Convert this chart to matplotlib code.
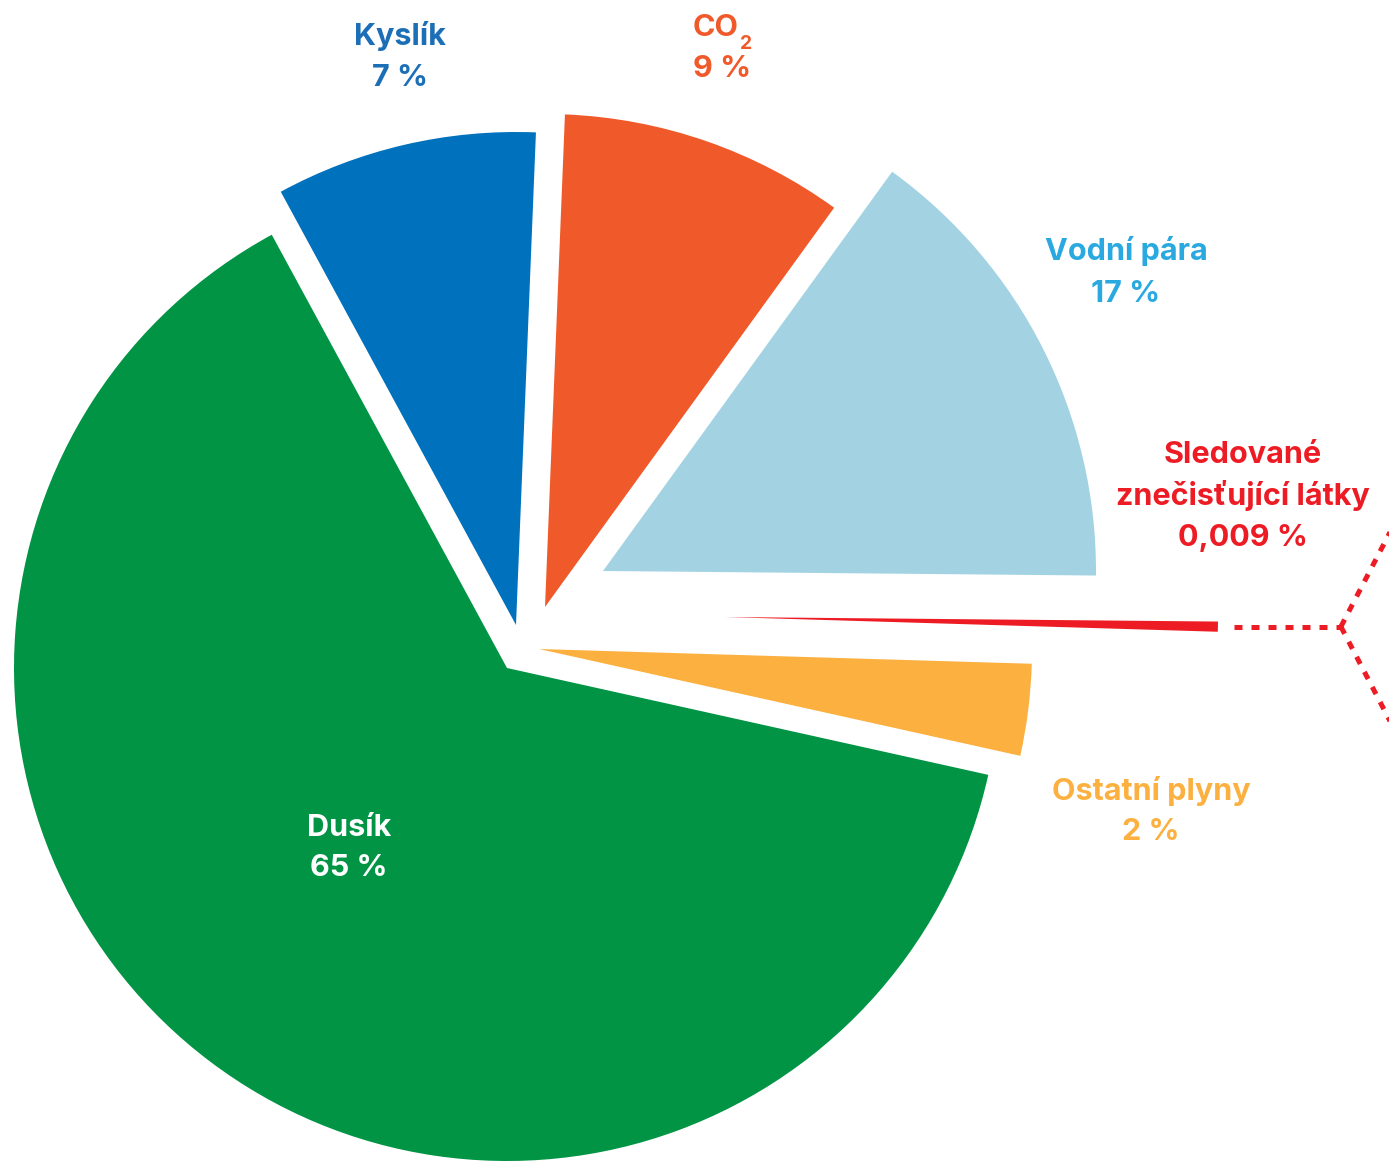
import numpy as np
import matplotlib
matplotlib.use("Agg")
import matplotlib.pyplot as plt

# ---- data ----
categories = ["Dusík", "Ostatní plyny", "Sledované\nznečisťující látky", "Vodní pára", "CO", "Kyslík"]
pct_labels = ["65 %", "2 %", "0,009 %", "17 %", "9 %", "7 %"]
# share of the circle each slice occupies in the drawing (percent)
drawn_share = [63.6, 3.0, 0.33, 15.17, 9.33, 8.56]

slice_colors = ["#009444", "#FBB040", "#ED1C24", "#A3D3E3", "#F05A2B", "#0071BC"]
text_colors = ["#FFFFFF", "#FBB040", "#ED1C24", "#29A9E0", "#F05A2B", "#1C6FB7"]

# ---- layout (pixels) ----
W, H = 1389, 1162
fig = plt.figure(figsize=(W / 100, H / 100), dpi=100)
ax = fig.add_axes([0, 0, 1, 1])

center = (507, -668)
radius = 493
wedges, _ = ax.pie(drawn_share, colors=slice_colors, startangle=118.5,
                   counterclock=True, radius=radius, center=center,
                   wedgeprops=dict(linewidth=0))

# explode offsets of each slice (dx, dy in pixels)
explode_xy = [(0, 0), (32, 19), (218, 51), (96, 97), (38, 61), (9, 43)]
for w, (dx, dy) in zip(wedges, explode_xy):
    x0, y0 = w.center
    w.set_center((x0 + dx, y0 + dy))

ax.set_xlim(0, W)
ax.set_ylim(-H, 0)
ax.set_aspect("equal")
ax.axis("off")

# dotted extension of the tiny red slice
red = wedges[2]
tm = np.deg2rad((red.theta1 + red.theta2) / 2)
tx = red.center[0] + radius * np.cos(tm)
ty = red.center[1] + radius * np.sin(tm)
lkw = dict(color="#ED1C24", lw=3.6, dashes=(1.6, 1.8), dash_capstyle="butt")
ax.plot([tx + 16, tx + 123], [ty, ty], **lkw)
bx = tx + 123
ax.plot([bx, bx + 52], [ty, ty + 100], **lkw)
ax.plot([bx, bx + 52], [ty, ty - 100], **lkw)

# ---- labels ----
fam = ["Inter", "DejaVu Sans"]
font = dict(family=fam, fontweight="bold", fontsize=22)
label_pos = [  # (x, baseline of name, baseline of value)
    (349, 836, 876),
    (1151, 800, 840),
    (1243, 463, 546),
    (1126, 260, 302),
    (716, 36, 77),
    (400, 45, 86),
]
for i, (x, yb1, yb2) in enumerate(label_pos):
    name = categories[i]
    c = text_colors[i]
    if i == 2:
        l1, l2 = name.split("\n")
        ax.text(x, -yb1, l1, color=c, ha="center", va="baseline", **font)
        ax.text(x, -(yb1 + 42), l2, color=c, ha="center", va="baseline", **font)
        ax.text(x, -yb2, pct_labels[i], color=c, ha="center", va="baseline", **font)
        continue
    if i == 4:
        t = ax.text(x, -yb1, name, color=c, ha="center", va="baseline", **font)
        ax.annotate("2", xy=(1, 0), xycoords=t, xytext=(0.5, -8), textcoords="offset points",
                    color=c, ha="left", va="bottom", family=fam,
                    fontweight="bold", fontsize=14)
        ax.text(x + 6, -yb2, pct_labels[i], color=c, ha="center", va="baseline", **font)
        continue
    ax.text(x, -yb1, name, color=c, ha="center", va="baseline", **font)
    ax.text(x, -yb2, pct_labels[i], color=c, ha="center", va="baseline", **font)

fig.savefig("out.png", dpi=100, facecolor="white")
